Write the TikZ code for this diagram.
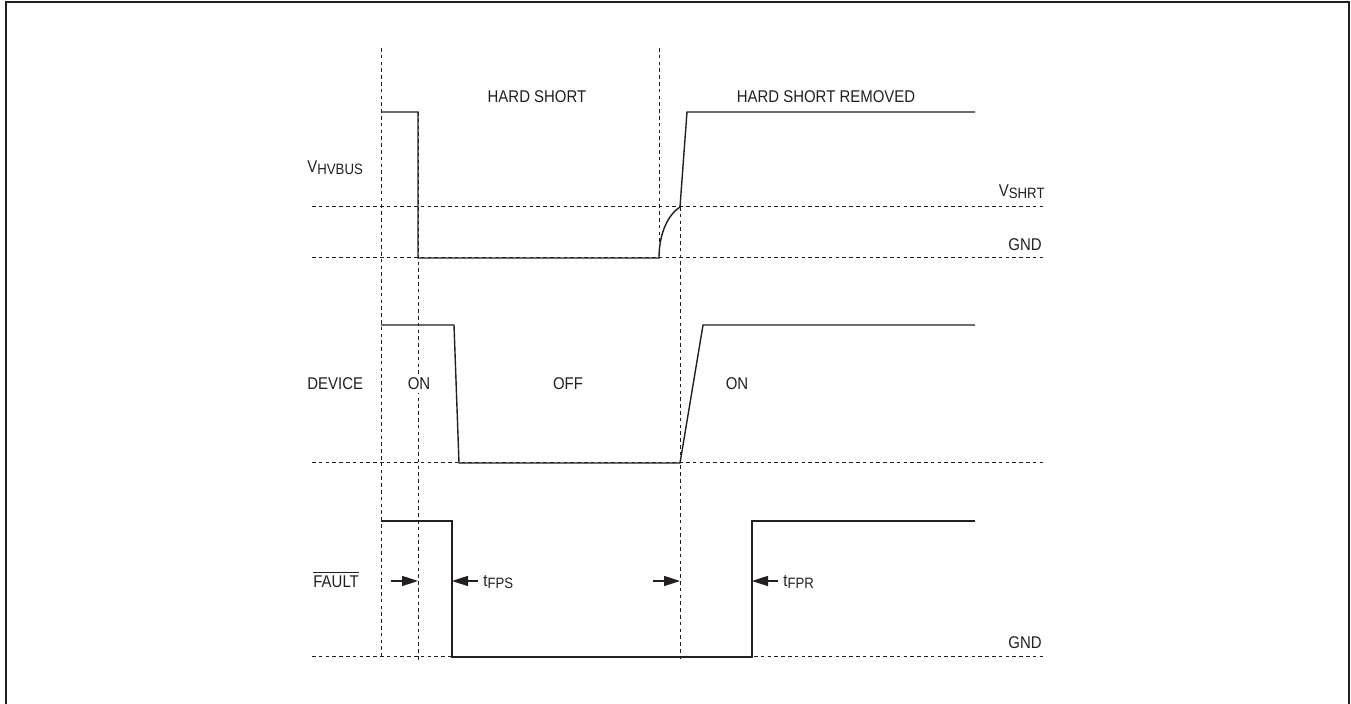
\documentclass[tikz,border=0pt]{standalone}
\usepackage{fontspec}
\setmainfont{Liberation Sans}[FakeStretch=0.88]
\usepackage{xcolor}
\usepackage{tikz}
\usetikzlibrary{arrows.meta, positioning}
\definecolor{inkgray}{HTML}{231f20}
\tikzstyle{wave} = [draw=inkgray, line width=0.7pt, line join=miter]
\tikzstyle{guide} = [draw=inkgray, line width=0.5pt, dash pattern=on 1.8pt off 1.6pt]
\tikzstyle{lbl} = [inner sep=0pt, font=\fontsize{8.5}{10}\selectfont, text=inkgray]
\tikzstyle{arrow} = [draw=inkgray, line width=0.8pt, -{Triangle[length=8pt, width=5pt]}]
\newcommand{\lowsub}[1]{\raisebox{-0.25ex}{\fontsize{7.5}{8}\selectfont #1}}

\begin{document}
\begin{tikzpicture}[x=0.5pt, y=-0.5pt]
  \useasboundingbox (0,0) rectangle (1351,704);
  \draw[inkgray, line width=1pt] (6,704) -- (6,2) -- (1349,2) -- (1349,704);

  % time marks
  \draw[guide] (381,48) -- (381,660);
  \draw[guide] (418,112) -- (418,660);
  \draw[guide] (659,48) -- (659,258);
  \draw[guide] (680,207) -- (680,660);

  % levels
  \draw[guide] (312,207) -- (1045,207);
  \draw[guide] (312,258) -- (1045,258);
  \draw[guide] (312,463) -- (1045,463);
  \draw[guide] (312,657) -- (1045,657);

  % V_HVBUS
  \coordinate (vb0) at (381,112);
  \coordinate (vb1) at (418,112);
  \coordinate (vb2) at (418,258);
  \coordinate (vb3) at (659,258);
  \coordinate (vb4) at (680,207);
  \coordinate (vb5) at (687,112);
  \coordinate (vb6) at (975,112);
  \draw[wave] (vb0) -- (vb1) -- (vb2) -- (vb3)
    .. controls (659,232) and (669,214) .. (vb4) -- (vb5) -- (vb6);

  % DEVICE
  \coordinate (dv0) at (381,325);
  \coordinate (dv1) at (454,325);
  \coordinate (dv2) at (459,463);
  \coordinate (dv3) at (680,463);
  \coordinate (dv4) at (703,325);
  \coordinate (dv5) at (975,325);
  \draw[wave] (dv0) -- (dv1) -- (dv2) -- (dv3) -- (dv4) -- (dv5);

  % FAULT
  \coordinate (ft0) at (381,521);
  \coordinate (ft1) at (452,521);
  \coordinate (ft2) at (452,657);
  \coordinate (ft3) at (752,657);
  \coordinate (ft4) at (752,521);
  \coordinate (ft5) at (975,521);
  \draw[wave] (ft0) -- (ft1) -- (ft2) -- (ft3) -- (ft4) -- (ft5);

  % labels
  \node[lbl, anchor=west] (vhv) at (307,168) {V\lowsub{HVBUS}};
  \node[lbl] (hs) at (537,97) {HARD SHORT};
  \node[lbl] (hsr) at (826,97) {HARD SHORT REMOVED};
  \node[lbl, anchor=east] (vshrt) at (1045,192) {V\lowsub{SHRT}};
  \node[lbl, anchor=east] (gndv) at (1042,245) {GND};
  \node[lbl, anchor=west] (dev) at (307,384) {DEVICE};
  \node[lbl, fill=white, inner sep=1.5pt] (on1) at (419,384) {ON};
  \node[lbl] (off) at (568,384) {OFF};
  \node[lbl] (on2) at (737,384) {ON};
  \node[lbl, anchor=west] (flt) at (313,582) {FAULT};
  \draw[inkgray, line width=0.5pt] ([yshift=1.5pt]flt.north west) -- ([yshift=1.5pt]flt.north east);
  \node[lbl, anchor=east] (gndf) at (1042,643) {GND};
  \node[lbl, anchor=west] (tfps) at (483,582) {t\lowsub{FPS}};
  \node[lbl, anchor=west] (tfpr) at (783,582) {t\lowsub{FPR}};

  % timing arrows
  \coordinate (a1) at (391,581);
  \coordinate (a1e) at (418,581);
  \coordinate (a2) at (478,581);
  \coordinate (a2e) at (452,581);
  \coordinate (a3) at (653,581);
  \coordinate (a3e) at (680,581);
  \coordinate (a4) at (778,581);
  \coordinate (a4e) at (752,581);
  \draw[arrow] (a1) -- (a1e);
  \draw[arrow] (a2) -- (a2e);
  \draw[arrow] (a3) -- (a3e);
  \draw[arrow] (a4) -- (a4e);
\end{tikzpicture}
\end{document}
